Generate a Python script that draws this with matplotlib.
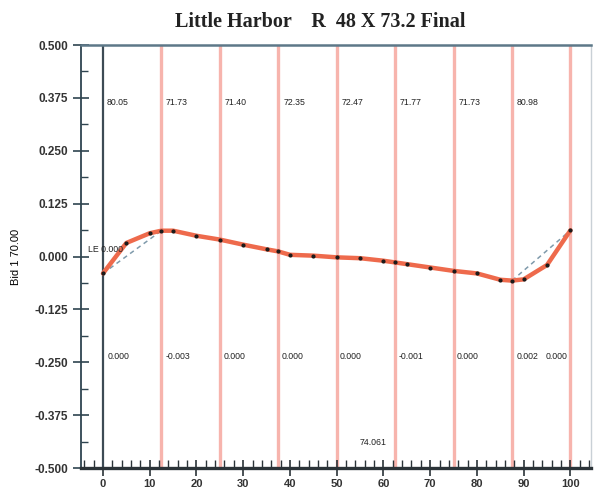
import matplotlib
matplotlib.use("Agg")
import matplotlib.pyplot as plt
from matplotlib.ticker import MultipleLocator, FormatStrFormatter

plt.rcParams['font.family'] = ['Liberation Sans', 'DejaVu Sans']

# Data
curve_x = [0, 5, 10, 12.5, 15, 20, 25, 30, 35, 37.5, 40, 45, 50, 55, 60, 62.5, 65,
           70, 75, 80, 85, 87.5, 90, 95, 100]
curve_y = [-0.040, 0.032, 0.055, 0.061, 0.061, 0.049, 0.040, 0.028, 0.017, 0.012, 0.004,
           0.002, -0.002, -0.004, -0.010, -0.014, -0.018, -0.026, -0.034, -0.040, -0.055,
           -0.057, -0.054, -0.020, 0.062]
dash1_x = [0, 12.5]
dash1_y = [-0.040, 0.061]
dash2_x = [87.5, 100]
dash2_y = [-0.057, 0.062]
station_x = [12.5, 25, 37.5, 50, 62.5, 75, 87.5, 100]
top_labels = ["80.05", "71.73", "71.40", "72.35", "72.47", "71.77", "71.73", "80.98"]
top_label_x = [0.8, 13.5, 26.0, 38.6, 51.1, 63.5, 76.0, 88.4]
bottom_labels = ["0.000", "-0.003", "0.000", "0.000", "0.000", "-0.001", "0.000", "0.002", "0.000"]
bottom_label_x = [1.0, 13.5, 25.9, 38.3, 50.7, 63.2, 75.6, 88.4, 94.6]
le_text = "LE 0.000"
center_text = "74.061"

fig = plt.figure(figsize=(5.95, 4.93), dpi=100)
ax = fig.add_axes([0.1361, 0.0507, 0.8572, 0.858])
ax.set_xlim(-4.7, 104.4)
ax.set_ylim(-0.5, 0.5)

# Vertical station lines
for sx in station_x:
    ax.axvline(sx, color='#f7aca4', lw=2.4, alpha=0.9, zorder=1)
ax.axvline(0, color='#3d4b55', lw=1.6, zorder=2)

# Dashed chords
ax.plot(dash1_x, dash1_y, color='#7f9aab', lw=1.1, ls=(0, (3, 2.5)), zorder=3)
ax.plot(dash2_x, dash2_y, color='#7f9aab', lw=1.1, ls=(0, (3, 2.5)), zorder=3)

# Curve
ax.plot(curve_x, curve_y, color='#ee6a4c', lw=3.2, solid_capstyle='round', zorder=4)
ax.plot(curve_x, curve_y, ls='none', marker='o', ms=2.0, color='#1a1a1a', zorder=5)

# Texts
for x, t in zip(top_label_x, top_labels):
    ax.text(x, 0.365, t, fontsize=6.3, ha='left', va='center', color='#222222', zorder=6)
for x, t in zip(bottom_label_x, bottom_labels):
    ax.text(x, -0.2365, t, fontsize=6.3, ha='left', va='center', color='#222222', zorder=6)
ax.text(-3.1, 0.017, le_text, fontsize=6.3, ha='left', va='center', color='#222222', zorder=6)
ax.text(57.7, -0.44, center_text, fontsize=6.3, ha='center', va='center', color='#222222', zorder=6)

# Axes styling
ax.spines['top'].set_color('#5d7888')
ax.spines['top'].set_linewidth(1.8)
ax.spines['right'].set_color('#c9d0d6')
ax.spines['right'].set_linewidth(1.0)
ax.spines['left'].set_color('#2f4450')
ax.spines['left'].set_linewidth(1.3)
ax.spines['bottom'].set_color('#2b3338')
ax.spines['bottom'].set_linewidth(2.4)

ax.xaxis.set_major_locator(MultipleLocator(10))
ax.xaxis.set_minor_locator(MultipleLocator(2))
ax.yaxis.set_major_locator(MultipleLocator(0.125))
ax.yaxis.set_minor_locator(MultipleLocator(0.0625))
ax.yaxis.set_major_formatter(FormatStrFormatter('%.3f'))

ax.tick_params(axis='x', which='major', direction='inout', length=12, width=1.2,
               color='#2b3338', labelsize=8, pad=2)
ax.tick_params(axis='x', which='minor', direction='in', length=6, width=1.0, color='#2b3338')
ax.tick_params(axis='y', which='major', direction='inout', length=12, width=1.2,
               color='#2f4450', labelsize=8.5, pad=3)
ax.tick_params(axis='y', which='minor', direction='in', length=5, width=1.0, color='#2f4450')
for lbl in ax.get_xticklabels() + ax.get_yticklabels():
    lbl.set_fontweight('bold')
    lbl.set_color('#333333')

ax.set_ylabel("Bid 1 70.00", fontsize=8, labelpad=10)

fig.text(320 / 595, 1 - 22 / 493, "Little Harbor    R  48 X 73.2 Final",
         family=['Liberation Serif', 'DejaVu Serif'], fontweight='bold', fontsize=14.5,
         ha='center', va='center', color='#222222')

fig.savefig("out.png", dpi=100)
